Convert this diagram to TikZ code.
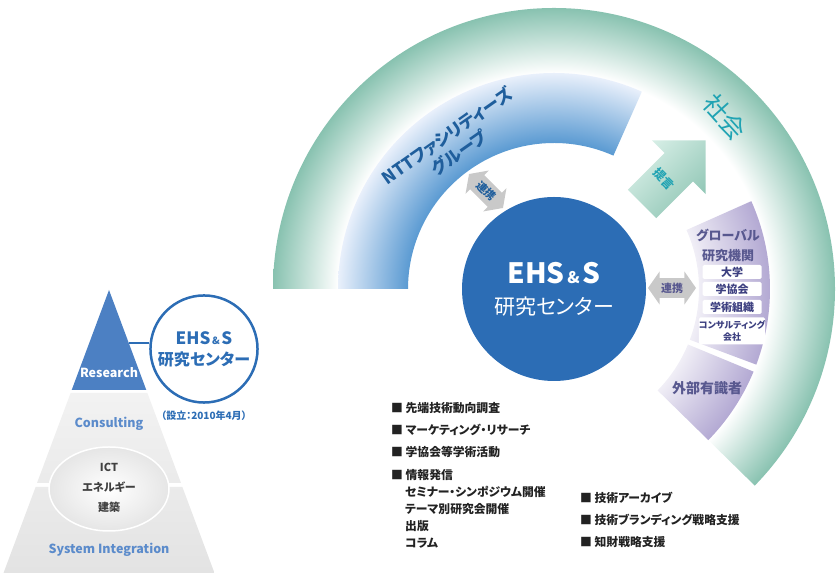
\documentclass[tikz,border=0pt]{standalone}
\usepackage{fontspec}
\setmainfont{Noto Sans CJK JP}[RawFeature=+palt]
\usetikzlibrary{positioning,shapes.arrows,calc}
\definecolor{ringgreen}{HTML}{88C2B0}
\definecolor{ringblue}{HTML}{5A9AD2}
\definecolor{bluelight}{HTML}{E9F0FB}
\definecolor{purplelight}{HTML}{F0EEF6}
\definecolor{purpledark}{HTML}{B3A9D3}
\definecolor{centerblue}{HTML}{2C6DB5}
\definecolor{nttblue}{HTML}{1F5E9C}
\definecolor{teal}{HTML}{20A3B3}
\definecolor{mintlight}{HTML}{D8EFE7}
\definecolor{mintdark}{HTML}{90C6B5}
\definecolor{arrowgray}{HTML}{C9C9C9}
\definecolor{purpletext}{HTML}{58588F}
\definecolor{boxnavy}{HTML}{3C3F80}
\definecolor{researchblue}{HTML}{4C80C3}
\definecolor{pyrblue}{HTML}{5B8BCB}
\definecolor{listgray}{HTML}{222222}
\pgfdeclareradialshading{greenring}{\pgfpointorigin}{color(0bp)=(white); color(19.2bp)=(white); color(25bp)=(ringgreen); color(50bp)=(ringgreen)}
\pgfdeclareradialshading{bluering}{\pgfpointorigin}{color(0bp)=(ringblue); color(16.9bp)=(ringblue); color(25bp)=(bluelight); color(50bp)=(bluelight)}
\pgfdeclareradialshading{purplering}{\pgfpointorigin}{color(0bp)=(purplelight); color(16.8bp)=(purplelight); color(25bp)=(purpledark); color(50bp)=(purpledark)}
\tikzset{
  bandlabel/.style={font=\bfseries\fontsize{12.5}{14}\selectfont, text=pyrblue},
  linkarrow/.style={double arrow, fill=arrowgray, minimum height=48pt,
    double arrow head extend=6.5pt, double arrow tip angle=110,
    inner xsep=1pt, inner ysep=4.5pt, font=\bfseries\fontsize{11}{11}\selectfont},
  listtext/.style={anchor=north west, align=left, inner sep=0pt, text=listgray,
    font=\bfseries\fontsize{11.8}{17}\selectfont},
  orgbox/.style={fill=white, rounded corners=1.5pt, minimum width=59pt,
    minimum height=14pt, inner sep=0pt, text=boxnavy,
    font=\bfseries\fontsize{11}{12}\selectfont}
}
\begin{document}
\begin{tikzpicture}[x=1pt,y=1pt]
  \useasboundingbox (0,0) rectangle (840,585);
  % rings round the centre
  \begin{scope}[shift={(554,296)}]
    \begin{scope}
      \clip (180:281pt) arc[start angle=180, end angle=-44.4, radius=281pt]
        -- (-44.4:216pt) arc[start angle=-44.4, end angle=180, radius=216pt] -- cycle;
      \shade[shading=greenring] (0,0) circle (281pt);
    \end{scope}
    \begin{scope}
      \clip (66:216pt) arc[start angle=66, end angle=180, radius=216pt]
        -- (180:146pt) arc[start angle=180, end angle=66, radius=146pt] -- cycle;
      \shade[shading=bluering] (0,0) circle (216pt);
    \end{scope}
    \begin{scope}
      \clip (-20.5:216pt) arc[start angle=-20.5, end angle=24, radius=216pt]
        -- (24:145pt) arc[start angle=24, end angle=-20.5, radius=145pt] -- cycle;
      \shade[shading=purplering] (0,0) circle (216pt);
    \end{scope}
    \begin{scope}
      \clip (-44.4:216pt) arc[start angle=-44.4, end angle=-22.5, radius=216pt]
        -- (-22.5:145pt) arc[start angle=-22.5, end angle=-44.4, radius=145pt] -- cycle;
      \shade[shading=purplering] (0,0) circle (216pt);
    \end{scope}
  \end{scope}
  % proposal arrow
  \begin{scope}[shift={(642,381)}, rotate=45]
    \shade[left color=mintlight, right color=mintdark, shading angle=45]
      (0,-20) -- (52,-20) -- (52,-38) -- (90,0) -- (52,38) -- (52,20) -- (0,20) -- cycle;
  \end{scope}
  \node[rotate=-45, text=teal, font=\bfseries\fontsize{12}{12}\selectfont] (proposal) at (664,406) {提言};
  \node[rotate=-48, text=teal, font=\fontsize{25}{25}\selectfont] (society) at (725,468) {社会};
  \node[rotate=35, align=center, text=nttblue, font=\bfseries\fontsize{17}{21}\selectfont] (nttlabel) at (453,441) {NTTファシリティーズ\\グループ};
  % centre
  \node[circle, fill=centerblue, minimum size=184pt, text=white, align=center,
    font=\fontsize{21}{31}\selectfont] (ehs) at (554,296)
    {{\bfseries\fontsize{28}{30}\selectfont EHS{\fontsize{16}{16}\selectfont\,\&\,}S}\\研究センター};
  \node[linkarrow, rotate=-45, text=nttblue] (linkntt) at (486,394) {連携};
  \node[linkarrow, text=purpletext] (linkglobal) at (672,297) {連携};
  % partners
  \node[align=center, text=purpletext, font=\bfseries\fontsize{13}{20}\selectfont] (global) at (728,340) {グローバル\\研究機関};
  \node[orgbox] (univ) at (732,313) {大学};
  \node[orgbox] (society2) at (732,296) {学協会};
  \node[orgbox] (academic) at (732,278) {学術組織};
  \node[orgbox, minimum height=27pt, align=center, font=\bfseries\fontsize{9}{12}\selectfont] (consult) at (732,254) {コンサルティング\\会社};
  \node[text=purpletext, font=\bfseries\fontsize{14}{14}\selectfont] (experts) at (707,197) {外部有識者};
  % activity lists
  \node[listtext] (listleft) at (391,183) {■ 先端技術動向調査\\[5.3pt]■ マーケティング・リサーチ\\[5.3pt]■ 学協会等学術活動\\[5.3pt]■ 情報発信\\\hspace*{14pt}セミナー・シンポジウム開催\\\hspace*{14pt}テーマ別研究会開催\\\hspace*{14pt}出版\\\hspace*{14pt}コラム};
  \node[listtext] (listright) at (580,93) {■ 技術アーカイブ\\[5pt]■ 技術ブランディング戦略支援\\[5pt]■ 知財戦略支援};
  % pyramid
  \shade[top color=gray!10, bottom color=gray!16] (70.6,192) -- (147.4,192) -- (181,102) -- (37,102) -- cycle;
  \shade[top color=gray!16, bottom color=gray!22] (35.6,98) -- (182.4,98) -- (214.5,12) -- (3.5,12) -- cycle;
  \fill[researchblue] (109,295) -- (146.3,195) -- (71.7,195) -- cycle;
  \shade[inner color=white, outer color=gray!20, draw=white, line width=1.5pt] (109,96) ellipse[x radius=60pt, y radius=42pt];
  \node[bandlabel, text=white] (research) at (109,212) {Research};
  \node[bandlabel] (consulting) at (109,161) {Consulting};
  \node[bandlabel] (sysint) at (109,35) {System Integration};
  \node[align=center, text=darkgray, font=\bfseries\fontsize{11}{20}\selectfont] (fields) at (109,97) {ICT\\エネルギー\\建築};
  \node[circle, draw=centerblue, line width=2.5pt, fill=white, minimum size=92pt,
    align=center, text=centerblue, font=\bfseries\fontsize{16}{21}\selectfont] (ehsmini) at (204,236)
    {{\fontsize{17}{18}\selectfont EHS{\fontsize{10}{10}\selectfont\,\&\,}S}\\研究センター};
  \node[below=7pt of ehsmini, inner sep=0pt, text=centerblue, font=\bfseries\fontsize{10}{10}\selectfont] (founded) {（設立：2010年4月）};
  \coordinate (resedge) at (129,242);
  \draw[centerblue, line width=1.5pt] (resedge) -- (resedge -| ehsmini.west);
\end{tikzpicture}
\end{document}
